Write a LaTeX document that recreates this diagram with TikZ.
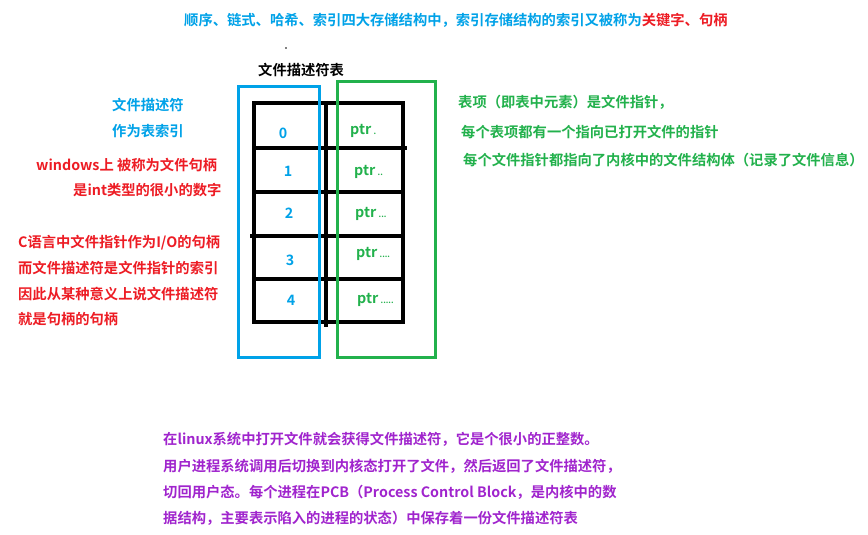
\documentclass[tikz,border=0pt]{standalone}
\usepackage{fontspec}
\setmainfont{Noto Sans CJK SC}[BoldFont={Noto Sans CJK SC Bold}]
\definecolor{fdblue}{RGB}{0,162,232}
\definecolor{fdgreen}{RGB}{34,177,76}
\definecolor{fdred}{RGB}{237,28,36}
\definecolor{fdpurple}{RGB}{160,36,205}
\tikzset{
  txt/.style={inner sep=0pt, anchor=west, font=\fontsize{14.3}{16}\selectfont\bfseries},
  cell/.style={inner sep=0pt, font=\fontsize{14.3}{16}\selectfont\bfseries},
}
\newcommand{\dts}[1]{{\fontsize{8}{9}\selectfont #1}}
\begin{document}
\begin{tikzpicture}[x=1pt,y=-1pt]
\useasboundingbox[fill=white] (0,0) rectangle (868,535);
% title
\node[txt, text=fdblue] (title) at (184,20) {顺序、链式、哈希、索引四大存储结构中，索引存储结构的索引又被称为\textcolor{fdred}{关键字、句柄}};
\fill (286,48) circle (0.8);
\node[txt] (tabname) at (258,70) {文件描述符表};
% table
\draw[line width=3.2pt] (254,103) rectangle (403,322);
\draw[line width=3.2pt] (326,101) -- (326,327);
\draw[line width=3.2pt] (254,148) -- (407,148);
\draw[line width=3.2pt] (254,192) -- (403,192);
\draw[line width=3.2pt] (250,236) -- (403,236);
\draw[line width=3.2pt] (254,279) -- (403,279);
% index and pointer boxes
\draw[fdblue, line width=3pt] (238,87) rectangle (319,357);
\draw[fdgreen, line width=3pt] (337,82) rectangle (435,357);
% cells
\node[cell, text=fdblue] (i0) at (283,133) {0};
\node[cell, text=fdblue] (i1) at (288,171) {1};
\node[cell, text=fdblue] (i2) at (289,213) {2};
\node[cell, text=fdblue] (i3) at (290,260) {3};
\node[cell, text=fdblue] (i4) at (291,300) {4};
\node[txt, text=fdgreen] (p0) at (350,131) {ptr\,\dts{.}};
\node[txt, text=fdgreen] (p1) at (354,172) {ptr\,\dts{..}};
\node[txt, text=fdgreen] (p2) at (355,214) {ptr\,\dts{...}};
\node[txt, text=fdgreen] (p3) at (356,254) {ptr\,\dts{....}};
\node[txt, text=fdgreen] (p4) at (357,300) {ptr\,\dts{.....}};
% left notes
\node[txt, text=fdblue] (l1) at (112,105) {文件描述符};
\node[txt, text=fdblue] (l2) at (112,131) {作为表索引};
\node[txt, text=fdred] (l3) at (36,165) {windows上 被称为文件句柄};
\node[txt, text=fdred] (l4) at (73,190) {是int类型的很小的数字};
\node[txt, text=fdred] (l5) at (18,243) {C语言中文件指针作为I/O的句柄};
\node[txt, text=fdred] (l6) at (18,268) {而文件描述符是文件指针的索引};
\node[txt, text=fdred] (l7) at (18,294) {因此从某种意义上说文件描述符};
\node[txt, text=fdred] (l8) at (18,319) {就是句柄的句柄};
% right notes
\node[txt, text=fdgreen] (r1) at (458,102) {表项（即表中元素）是文件指针，};
\node[txt, text=fdgreen] (r2) at (461,132) {每个表项都有一个指向已打开文件的指针};
\node[txt, text=fdgreen] (r3) at (463,160) {每个文件指针都指向了内核中的文件结构体（记录了文件信息）};
% bottom note
\node[txt, text=fdpurple] (b1) at (163,439) {在linux系统中打开文件就会获得文件描述符，它是个很小的正整数。};
\node[txt, text=fdpurple] (b2) at (163,466) {用户进程系统调用后切换到内核态打开了文件，然后返回了文件描述符，};
\node[txt, text=fdpurple] (b3) at (163,492) {切回用户态。每个进程在PCB（Process Control Block，是内核中的数};
\node[txt, text=fdpurple] (b4) at (163,518) {据结构，主要表示陷入的进程的状态）中保存着一份文件描述符表};
\end{tikzpicture}
\end{document}
